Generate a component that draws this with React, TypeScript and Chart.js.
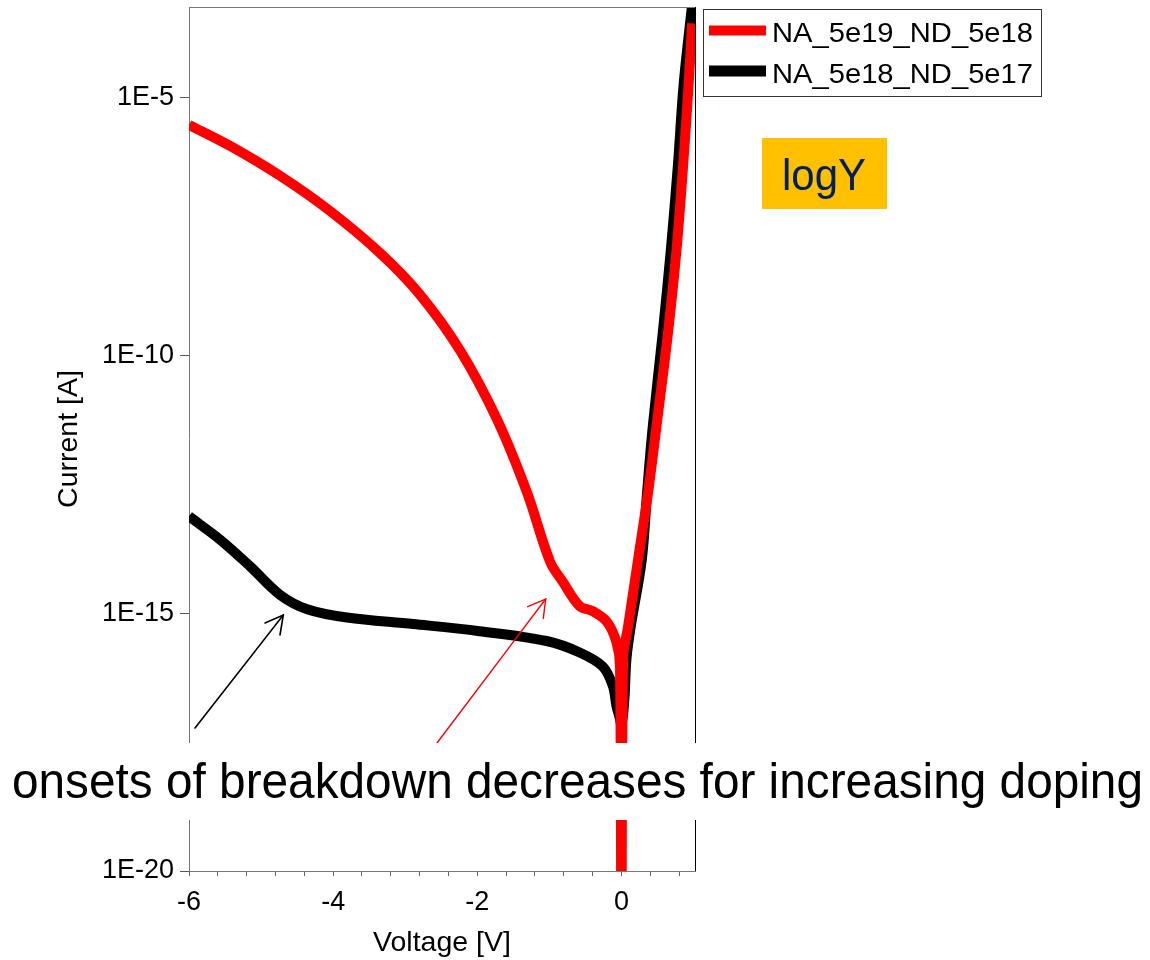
import React, { useEffect, useRef } from "react";
import { Chart, registerables } from "chart.js";

Chart.register(...registerables);

// ---- data ----
const seriesNames = ["NA_5e19_ND_5e18", "NA_5e18_ND_5e17"];
const seriesColors = ["#ff0000", "#000000"];

const redVoltage = [
  -6.0, -5.43, -4.74, -4.05, -3.35, -2.8, -2.24, -1.73, -1.31, -0.99, -0.81, -0.58, -0.4, -0.2, -0.07, -0.02,
  0, 0.022, 0.092, 0.23, 0.369, 0.485, 0.646, 0.763, 0.854, 0.933, 0.98,
];
const redCurrent = [
  3.0e-6, 1.17e-6, 3.1e-7, 6.5e-8, 9.8e-9, 1.55e-9, 1.26e-10, 5.9e-12, 2.2e-13, 1.0e-14, 4.0e-15, 1.38e-15,
  1.1e-15, 6.8e-16, 2.75e-16, 9.3e-17, 1e-24, 1.3e-16, 5.6e-16, 1.1e-14, 2.2e-13, 4.2e-12, 2.8e-10, 1.1e-8,
  4.6e-7, 1.95e-5, 2.8e-4,
];

const blackVoltage = [
  -6.0, -5.57, -5.15, -4.74, -4.36, -3.81, -2.89, -1.97, -1.04, -0.58, -0.26, -0.12, -0.07, -0.03, 0, 0.04,
  0.069, 0.129, 0.282, 0.355, 0.434, 0.573, 0.684, 0.781, 0.864, 0.985,
];
const blackCurrent = [
  7.6e-14, 2.7e-14, 8.1e-15, 2.3e-15, 1.2e-15, 8.3e-16, 6.2e-16, 4.5e-16, 2.9e-16, 1.74e-16, 9.3e-17, 3.9e-17,
  1.6e-17, 1.0e-17, 7.0e-18, 2.1e-17, 1.3e-16, 5.6e-16, 1.1e-14, 2.2e-13, 4.2e-12, 2.8e-10, 1.1e-8, 4.6e-7,
  1.95e-5, 7.5e-4,
];

const xTickValues = [
  -6, -5.6, -5.2, -4.8, -4.4, -4, -3.6, -3.2, -2.8, -2.4, -2, -1.6, -1.2, -0.8, -0.4, 0, 0.4, 0.8,
];
const xLabelledTicks = [-6, -4, -2, 0];
const xTickLabels = ["-6", "-4", "-2", "0"];
const yTickValues = [1e-20, 1e-15, 1e-10, 1e-5];
const yTickLabels = ["1E-20", "1E-15", "1E-10", "1E-5"];

const xAxisTitle = "Voltage [V]";
const yAxisTitle = "Current [A]";
const annotationText = "onsets of breakdown decreases for increasing doping";
const badgeText = "logY";

const FONT = "'Liberation Sans', Arial, Helvetica, sans-serif";

const framePlugin = {
  id: "frame",
  afterDraw(chart: any) {
    const { ctx, chartArea } = chart;
    const { left, right, top, bottom } = chartArea;
    ctx.save();
    ctx.lineWidth = 1;
    ctx.strokeStyle = "#777777";
    ctx.beginPath();
    ctx.moveTo(left, top + 0.5);
    ctx.lineTo(right, top + 0.5);
    ctx.stroke();
    ctx.strokeStyle = "#000000";
    ctx.beginPath();
    ctx.moveTo(right + 0.5, top);
    ctx.lineTo(right + 0.5, bottom);
    ctx.stroke();
    ctx.restore();
  },
};

function toPoints(xs: number[], ys: number[]) {
  return xs.map((x, i) => ({ x, y: ys[i] }));
}

export default function App() {
  const canvasRef = useRef<HTMLCanvasElement | null>(null);

  useEffect(() => {
    if (!canvasRef.current) return;
    const lineStyle = {
      borderWidth: 10,
      pointRadius: 0,
      tension: 0.35,
      borderJoinStyle: "round",
      clip: 0,
    };
    const chart = new Chart(canvasRef.current, {
      type: "line",
      data: {
        datasets: [
          {
            label: seriesNames[0],
            data: toPoints(redVoltage, redCurrent),
            borderColor: seriesColors[0],
            backgroundColor: seriesColors[0],
            ...lineStyle,
          },
          {
            label: seriesNames[1],
            data: toPoints(blackVoltage, blackCurrent),
            borderColor: seriesColors[1],
            backgroundColor: seriesColors[1],
            ...lineStyle,
          },
        ],
      },
      options: {
        animation: false,
        responsive: false,
        devicePixelRatio: 1,
        parsing: false as any,
        layout: { padding: { left: 0, right: 455, top: 7, bottom: 0 } },
        plugins: { legend: { display: false }, tooltip: { enabled: false } },
        scales: {
          x: {
            type: "linear",
            min: -6,
            max: 1.02,
            afterFit: (scale: any) => {
              scale.height = 89;
              scale.paddingLeft = 0;
              scale.paddingRight = 0;
            },
            afterBuildTicks: (scale: any) => {
              scale.ticks = xTickValues.map((v) => ({ value: v }));
            },
            ticks: {
              autoSkip: false,
              maxRotation: 0,
              padding: 10,
              color: "#000",
              font: { family: FONT, size: 27 },
              callback: (value: any) => {
                const idx = xLabelledTicks.findIndex((t) => Math.abs(t - Number(value)) < 1e-6);
                return idx >= 0 ? xTickLabels[idx] : "";
              },
            },
            grid: { drawOnChartArea: false, drawTicks: true, tickLength: 5, color: "#666666" },
            border: { display: true, color: "#777777", width: 1 },
            title: {
              display: true,
              text: xAxisTitle,
              color: "#000",
              font: { family: FONT, size: 28.5 },
              padding: { top: 0, bottom: 0 },
            },
          },
          y: {
            type: "logarithmic",
            min: 1e-20,
            max: 5.8e-4,
            afterFit: (scale: any) => {
              scale.width = 189;
              scale.paddingTop = 0;
              scale.paddingBottom = 0;
            },
            afterBuildTicks: (scale: any) => {
              scale.ticks = yTickValues.map((v) => ({ value: v, major: true }));
            },
            ticks: {
              autoSkip: false,
              padding: 6,
              color: "#000",
              font: { family: FONT, size: 27 },
              callback: (value: any) => {
                const idx = yTickValues.findIndex((t) => Math.abs(Math.log10(t) - Math.log10(Number(value))) < 1e-6);
                return idx >= 0 ? yTickLabels[idx] : "";
              },
            },
            grid: { drawOnChartArea: false, drawTicks: true, tickLength: 9, color: "#555555" },
            border: { display: true, color: "#777777", width: 1 },
            title: {
              display: true,
              text: yAxisTitle,
              color: "#000",
              font: { family: FONT, size: 28.5 },
              padding: { top: 52, bottom: 0 },
            },
          },
        },
      } as any,
      plugins: [framePlugin],
    });
    return () => chart.destroy();
  }, []);

  return (
    <div style={{ position: "absolute", left: 0, top: 0, width: 1150, height: 960, background: "#fff" }}>
      <canvas ref={canvasRef} width={1150} height={960} style={{ position: "absolute", left: 0, top: 0 }} />
      <svg
        width={1150}
        height={960}
        style={{ position: "absolute", left: 0, top: 0, pointerEvents: "none" }}
        fontFamily={FONT}
      >
        {/* legend */}
        <rect x={703.5} y={9.5} width={338} height={87} fill="#fff" stroke="#333" strokeWidth={1} />
        <line x1={709} y1={30.5} x2={766} y2={30.5} stroke={seriesColors[0]} strokeWidth={10} />
        <line x1={709} y1={71} x2={766} y2={71} stroke={seriesColors[1]} strokeWidth={11} />
        <text x={772} y={41.5} fontSize={28} fill="#000" textLength={261} lengthAdjust="spacingAndGlyphs">
          {seriesNames[0]}
        </text>
        <text x={772} y={83} fontSize={28} fill="#000" textLength={261} lengthAdjust="spacingAndGlyphs">
          {seriesNames[1]}
        </text>

        {/* logY badge */}
        <rect x={762} y={138} width={125} height={71} fill="#FFC000" />
        <text x={782} y={190} fontSize={44} fill="#002060" textLength={84} lengthAdjust="spacingAndGlyphs">
          {badgeText}
        </text>

        {/* arrows */}
        <g stroke="#000" strokeWidth={1.6} fill="none" strokeLinecap="round">
          <line x1={195} y1={728} x2={283.3} y2={615} />
          <polyline points="265,623 283.3,615 280,635" />
        </g>
        <g stroke="#ff0000" strokeWidth={1.4} fill="none" strokeLinecap="round">
          <line x1={437} y1={743} x2={545.7} y2={599} />
          <polyline points="527.7,606.7 545.7,599 543.3,618.3" />
        </g>

        {/* annotation band */}
        <rect x={0} y={743} width={1150} height={77} fill="#fff" />
        <text x={12} y={798} fontSize={50} fill="#000" textLength={1131} lengthAdjust="spacingAndGlyphs">
          {annotationText}
        </text>
      </svg>
    </div>
  );
}
